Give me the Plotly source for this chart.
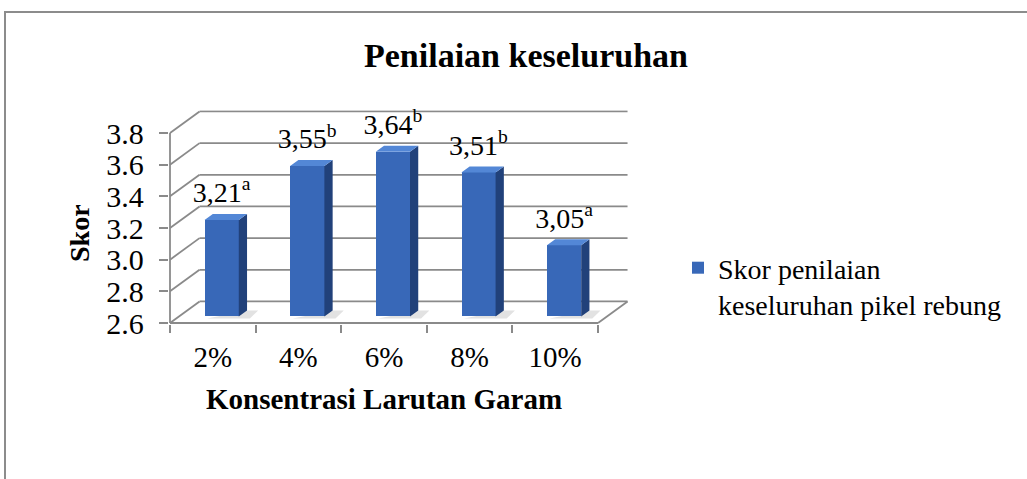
import plotly.graph_objects as go

# ---------------- data ----------------
categories = ["2%", "4%", "6%", "8%", "10%"]
values = [3.21, 3.55, 3.64, 3.51, 3.05]
value_labels = ["3,21", "3,55", "3,64", "3,51", "3,05"]
letters = ["a", "b", "b", "b", "a"]
y_ticks = [2.6, 2.8, 3.0, 3.2, 3.4, 3.6, 3.8]
y_ticktext = ["2.6", "2.8", "3.0", "3.2", "3.4", "3.6", "3.8"]
series_name = "Skor penilaian<br>keseluruhan pikel rebung"
chart_title = "Penilaian keseluruhan"
x_title = "Konsentrasi Larutan Garam"
y_title = "Skor"

# ---------------- style / layout ----------------
W, H = 1027, 479
FONT = "Liberation Serif"
GRID = "#8a8a8a"
FRONT = "#3868B8"
SIDE = "#21417A"
TOP = "#5387D6"
SHADOW = "#e2e2e2"


def pxx(p):
    return p / W


def pxy(p):
    return 1 - p / H


YMIN, YMAX = y_ticks[0], y_ticks[-1]
n = len(categories)
xs = list(range(n))

# oblique 3-D depth of the chart box, in data units
DX, DY = 0.345, 0.136
FB, BD = 0.30, 0.28      # bar front depth fraction, bar depth fraction
BW = 0.40                # bar width (category units)

# pixel geometry of the front plane
px_left, px_bottom = 170.0, 323.0
px_cat, px_unit = 85.6, 158.33
padx, pady = 0.015, 0.008

x_range = [-0.5 - padx, n - 0.5 + DX + padx]
y_range = [YMIN - pady, YMAX + DY + pady]
dom_x = [pxx(px_left - padx * px_cat), pxx(px_left + (n + DX + padx) * px_cat)]
dom_y = [pxy(px_bottom + pady * px_unit),
         pxy(px_bottom - (YMAX - YMIN + DY + pady) * px_unit)]

fig = go.Figure()

shapes = []
line = dict(color=GRID, width=1.8)
# back wall gridlines + left wall diagonals
for v in y_ticks:
    shapes.append(dict(type="line", xref="x", yref="y", layer="below",
                       x0=-0.5 + DX, x1=n - 0.5 + DX, y0=v + DY, y1=v + DY, line=line))
    shapes.append(dict(type="line", xref="x", yref="y", layer="below",
                       x0=-0.5, x1=-0.5 + DX, y0=v, y1=v + DY, line=line))
# front vertical axis, floor front and right edges
shapes.append(dict(type="line", xref="x", yref="y", layer="below",
                   x0=-0.5, x1=-0.5, y0=YMIN, y1=YMAX, line=line))
shapes.append(dict(type="line", xref="x", yref="y", layer="below",
                   x0=-0.5, x1=n - 0.5, y0=YMIN, y1=YMIN, line=line))
shapes.append(dict(type="line", xref="x", yref="y", layer="below",
                   x0=n - 0.5, x1=n - 0.5 + DX, y0=YMIN, y1=YMIN + DY, line=line))
# outer chart border
shapes.append(dict(type="rect", xref="paper", yref="paper", layer="below",
                   x0=pxx(5), x1=1.05, y0=-0.05, y1=pxy(12),
                   line=dict(color="#8c8c8c", width=2)))

# bar side & top faces, floor shadows
sx, sy, tx, ty = [], [], [], []
ddx, ddy = BD * DX, BD * DY
for i, v in zip(xs, values):
    xc = i + FB * DX
    xr, xl = xc + BW / 2, xc - BW / 2
    yb, yt = YMIN + FB * DY, v + FB * DY
    sx += [xr, xr, xr + ddx, xr + ddx, xr, None]
    sy += [yb, yt, yt + ddy, yb + ddy, yb, None]
    tx += [xl, xr, xr + ddx, xl + ddx, xl, None]
    ty += [yt, yt, yt + ddy, yt + ddy, yt, None]
    sh = 0.13
    shapes.append(dict(type="path", xref="x", yref="y", layer="below",
                       path=(f"M{xl + 0.03},{yb - 0.012} L{xr + sh},{yb - 0.012} "
                             f"L{xr + ddx + sh},{yb + ddy} L{xr + ddx},{yb + ddy} Z"),
                       fillcolor=SHADOW, line=dict(width=0)))

fig.add_trace(go.Scatter(x=sx, y=sy, fill="toself", fillcolor=SIDE, mode="lines",
                         line=dict(width=0), showlegend=False, hoverinfo="skip"))
fig.add_trace(go.Scatter(x=tx, y=ty, fill="toself", fillcolor=TOP, mode="lines",
                         line=dict(width=0), showlegend=False, hoverinfo="skip"))

# front faces (the bars)
fig.add_trace(go.Bar(
    x=[i + FB * DX for i in xs],
    y=[v - YMIN for v in values],
    base=[YMIN + FB * DY] * n,
    width=[BW] * n,
    marker=dict(color=FRONT, line=dict(width=0)),
    name=series_name,
    showlegend=True,
))

# data labels
fig.add_trace(go.Scatter(
    x=[i + FB * DX for i in xs],
    y=[v + FB * DY + ddy + 0.03 for v in values],
    mode="text",
    text=[f"{t}<sup>{s}</sup>" for t, s in zip(value_labels, letters)],
    textposition="top center",
    textfont=dict(family=FONT, size=28, color="black"),
    showlegend=False, hoverinfo="skip", cliponaxis=False,
))

fig.update_layout(
    width=W, height=H,
    margin=dict(l=0, r=0, t=0, b=0),
    paper_bgcolor="white", plot_bgcolor="rgba(0,0,0,0)",
    font=dict(family=FONT, size=28, color="black"),
    shapes=shapes,
    bargap=0,
    xaxis=dict(domain=dom_x, range=x_range, showgrid=False, zeroline=False,
               showline=False, tickmode="array", tickvals=xs, ticktext=categories,
               ticks="outside", ticklen=5, tickcolor="rgba(0,0,0,0)",
               ticklabelstandoff=2, automargin=False,
               minor=dict(ticks="outside", ticklen=8, tickcolor=GRID, tickwidth=1.8,
                          tickmode="array", tickvals=[i - 0.5 for i in range(n + 1)],
                          showgrid=False),
               tickfont=dict(family=FONT, size=29), fixedrange=True),
    yaxis=dict(domain=dom_y, range=y_range, showgrid=False, zeroline=False,
               showline=False, tickmode="array", tickvals=y_ticks, ticktext=y_ticktext,
               ticks="outside", ticklen=9, tickcolor=GRID, tickwidth=1.8,
               ticklabelstandoff=9, automargin=False,
               tickfont=dict(family=FONT, size=30), fixedrange=True),
    legend=dict(x=pxx(678), y=pxy(243), xanchor="left", yanchor="top",
                font=dict(family=FONT, size=28), bgcolor="rgba(0,0,0,0)",
                valign="top"),
    annotations=[
        dict(text=f"<b>{chart_title}</b>", x=pxx(526), y=pxy(56), xref="paper", yref="paper",
             showarrow=False, xanchor="center", yanchor="middle",
             font=dict(family=FONT, size=34)),
        dict(text=f"<b>{y_title}</b>", x=pxx(79), y=pxy(233), xref="paper", yref="paper",
             showarrow=False, xanchor="center", yanchor="middle", textangle=-90,
             font=dict(family=FONT, size=28)),
        dict(text=f"<b>{x_title}</b>", x=pxx(384), y=pxy(399), xref="paper", yref="paper",
             showarrow=False, xanchor="center", yanchor="middle",
             font=dict(family=FONT, size=29)),
    ],
)

fig.write_html("out.html",
               config={"displayModeBar": False},
               post_script="document.body.style.margin='0';document.body.style.overflow='hidden';")
